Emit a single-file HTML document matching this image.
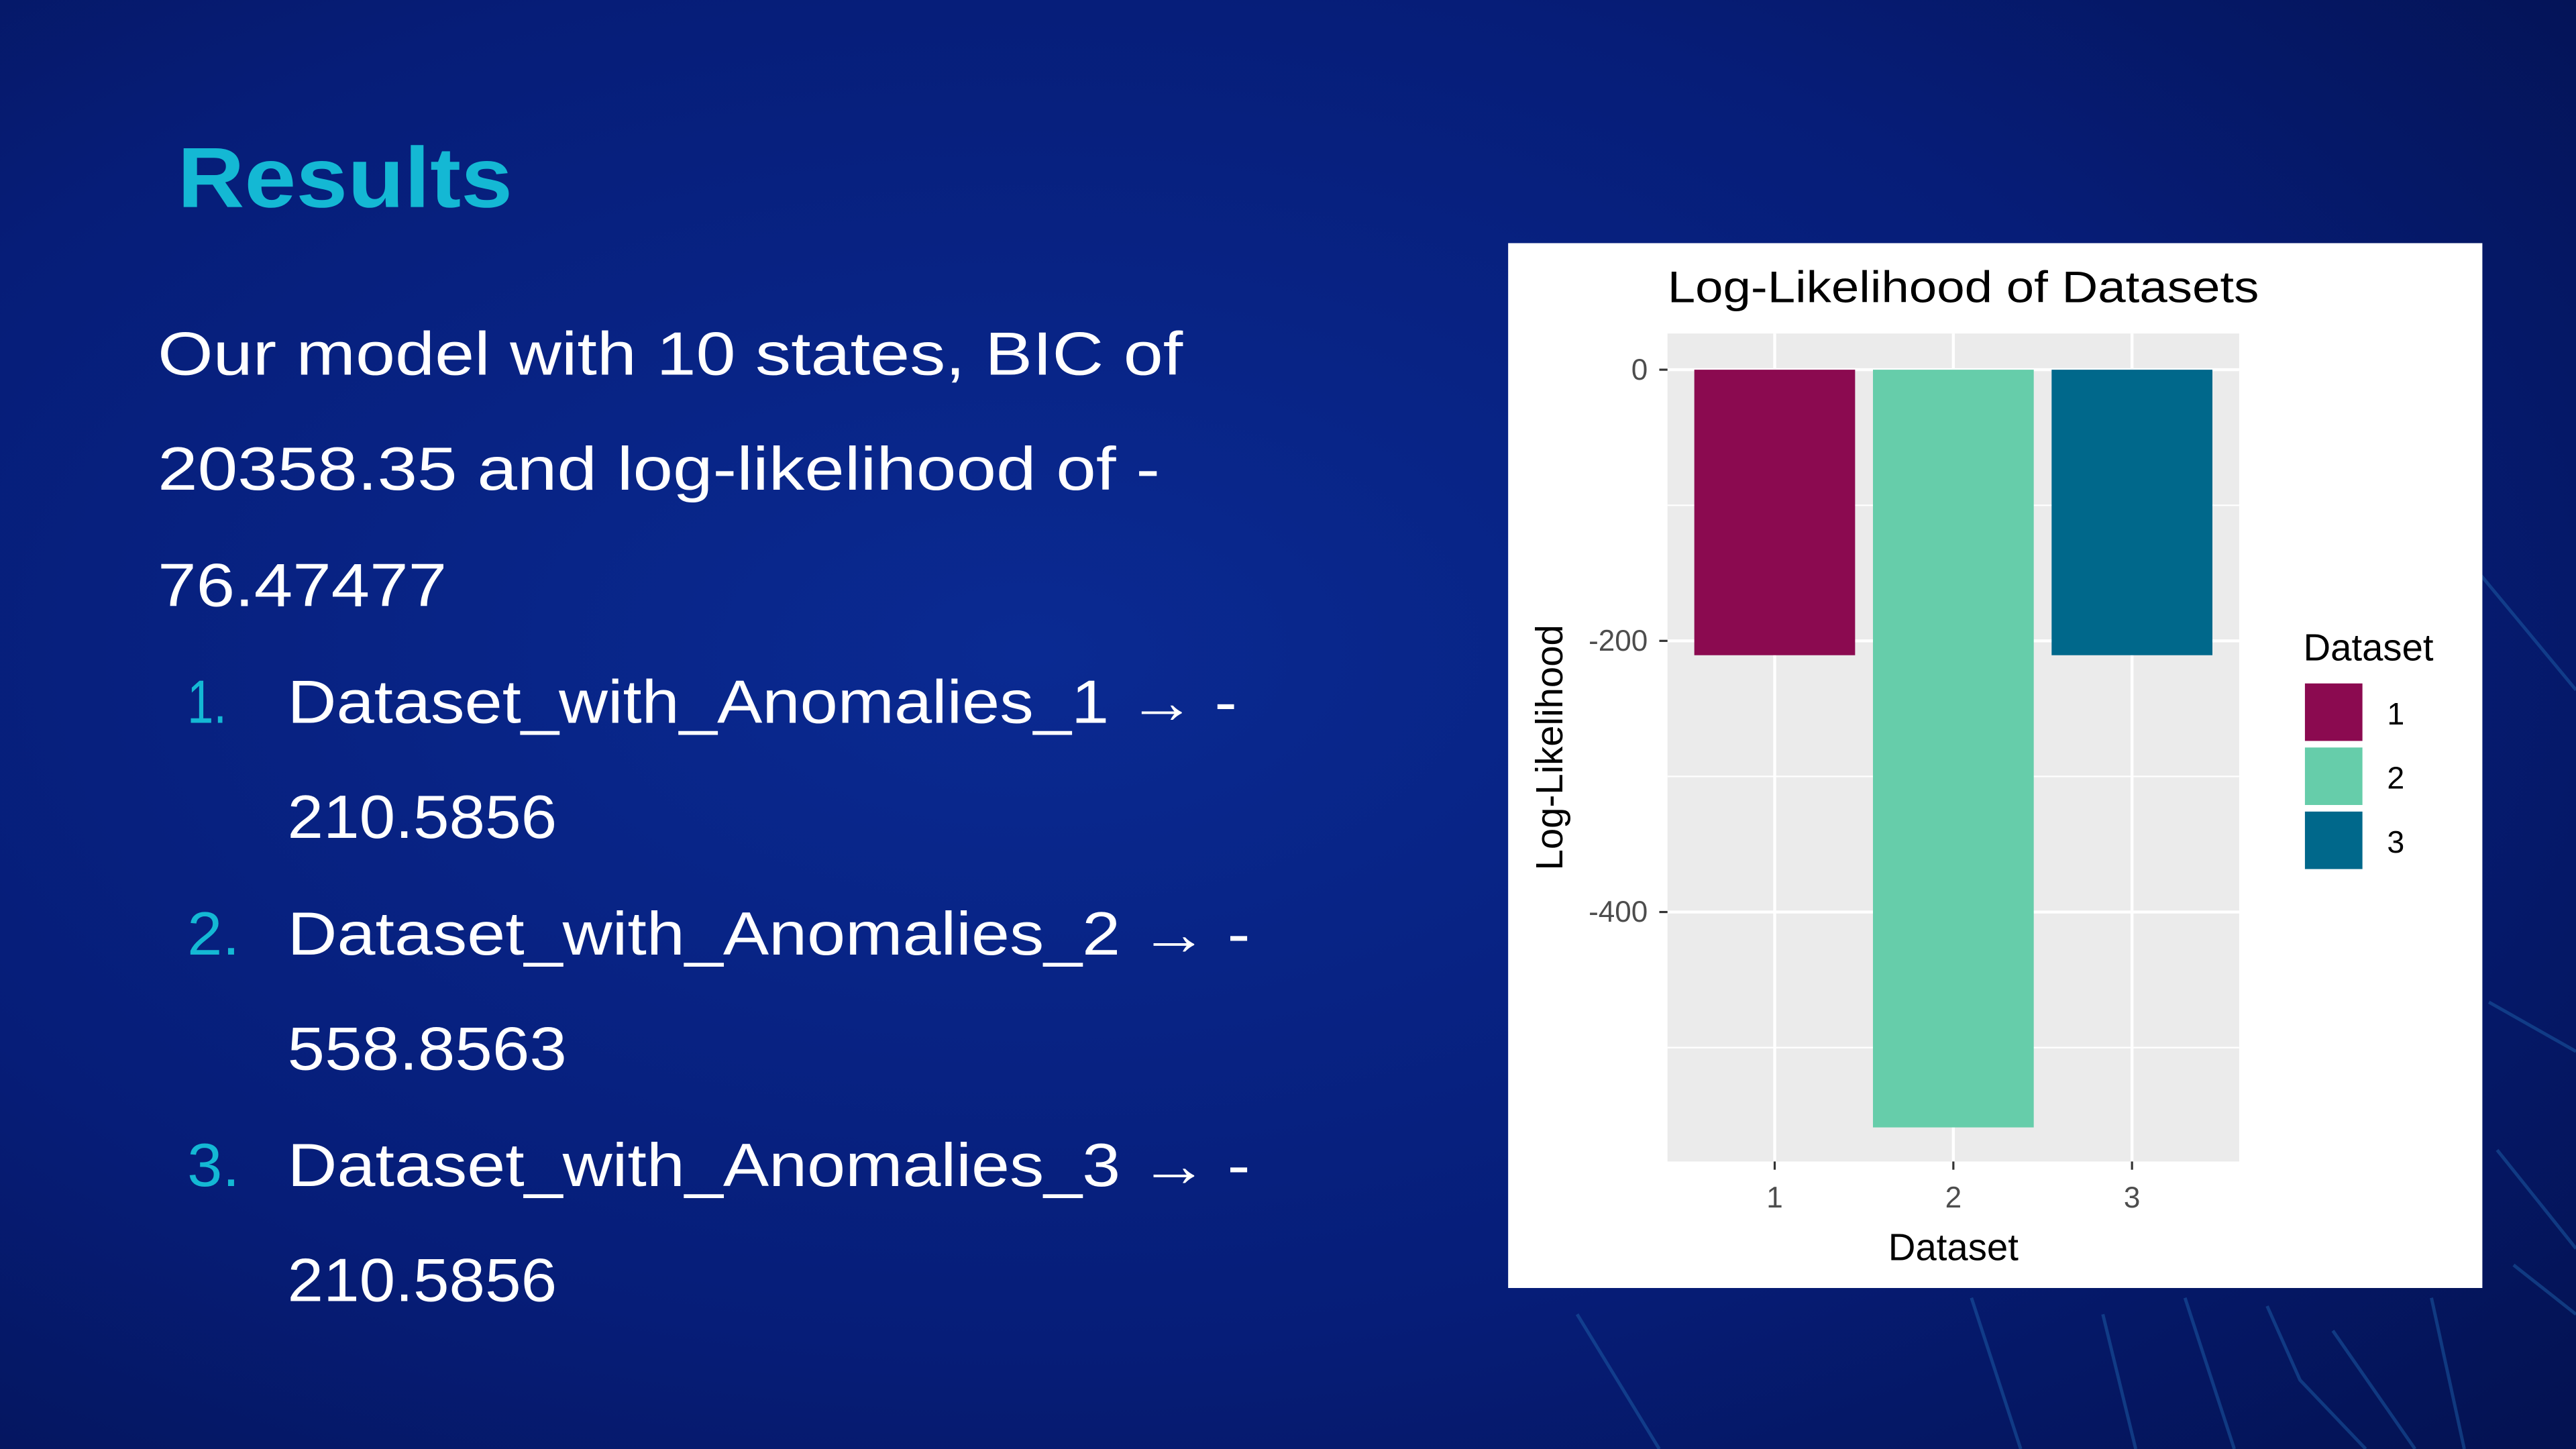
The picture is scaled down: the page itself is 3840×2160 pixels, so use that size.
<!DOCTYPE html>
<html><head><meta charset="utf-8">
<style>
html,body{margin:0;padding:0;width:3840px;height:2160px;overflow:hidden;background:#06196a;}
svg{display:block}
</style></head>
<body>
<svg id="page" width="3840" height="2160" viewBox="0 0 1568 882" xmlns="http://www.w3.org/2000/svg" font-family="Liberation Sans, sans-serif">
<defs>
<radialGradient id="bg" cx="0.4" cy="0.45" r="0.8">
<stop offset="0" stop-color="#0a2a92"/>
<stop offset="0.6" stop-color="#061d78"/>
<stop offset="1" stop-color="#041252"/>
</radialGradient>
</defs>
<rect width="1568" height="882" fill="url(#bg)"/>
<g stroke="#1d5fa8" stroke-width="2" fill="none" opacity="0.5">
<path d="M1510 350 L1568 420"/><path d="M1515 610 L1568 640"/><path d="M1520 700 L1568 760"/>
<path d="M1200 790 L1230 882"/><path d="M1330 790 L1360 882"/><path d="M1420 810 L1470 882"/>
<path d="M1480 790 L1500 882"/><path d="M1530 770 L1568 800"/><path d="M960 800 L1010 882"/>
<path d="M1380 795 L1400 840 L1440 882"/><path d="M1280 800 L1300 882"/>
</g>
<text x="108" y="126" font-size="52" font-weight="bold" fill="#14b8d4" textLength="204" lengthAdjust="spacingAndGlyphs">Results</text>
<g fill="#ffffff" font-size="37">
<text x="96" y="228" textLength="624" lengthAdjust="spacingAndGlyphs">Our model with 10 states, BIC of</text>
<text x="96" y="298" textLength="610" lengthAdjust="spacingAndGlyphs">20358.35 and log-likelihood of -</text>
<text x="96" y="369" textLength="176" lengthAdjust="spacingAndGlyphs">76.47477</text>
<text x="114" y="440" fill="#14b8d4" textLength="24" lengthAdjust="spacingAndGlyphs">1.</text>
<text x="175" y="440" textLength="578" lengthAdjust="spacingAndGlyphs">Dataset_with_Anomalies_1 → -</text>
<text x="175" y="510" textLength="164" lengthAdjust="spacingAndGlyphs">210.5856</text>
<text x="114" y="581" fill="#14b8d4" textLength="32" lengthAdjust="spacingAndGlyphs">2.</text>
<text x="175" y="581" textLength="586" lengthAdjust="spacingAndGlyphs">Dataset_with_Anomalies_2 → -</text>
<text x="175" y="651" textLength="170" lengthAdjust="spacingAndGlyphs">558.8563</text>
<text x="114" y="722" fill="#14b8d4" textLength="32" lengthAdjust="spacingAndGlyphs">3.</text>
<text x="175" y="722" textLength="586" lengthAdjust="spacingAndGlyphs">Dataset_with_Anomalies_3 → -</text>
<text x="175" y="792" textLength="164" lengthAdjust="spacingAndGlyphs">210.5856</text>
</g>
<rect x="918" y="148" width="593" height="636" fill="#ffffff"/>
<text x="1015" y="184" font-size="27" fill="#000" textLength="360" lengthAdjust="spacingAndGlyphs">Log-Likelihood of Datasets</text>
<rect x="1015" y="203" width="348" height="504" fill="#ebebeb"/>
<g id="grid"></g>
<g id="bars"></g>
<g id="axes"></g>
<text x="1189" y="767" font-size="23" text-anchor="middle" fill="#000">Dataset</text>
<text x="951" y="455" font-size="23" text-anchor="middle" fill="#000" transform="rotate(-90 951 455)">Log-Likelihood</text>
<g id="legend">
<text x="1402" y="402" font-size="23" fill="#000">Dataset</text>
</g>
</svg>
<script>
const categories = ['1','2','3'];
const values = [-210.5856, -558.8563, -210.5856];
const colors = ['#8b0a50','#66cdaa','#00688b'];
const yTicks = [0, -200, -400];
const yMinor = [-100, -300, -500];
const yTickLabels = ['0','-200','-400'];

const NS='http://www.w3.org/2000/svg';
const px0=1015, px1=1363, py0=203, py1=707;
const yTop=26.7, yBot=-584;
function y(v){return py0+(yTop-v)/(yTop-yBot)*(py1-py0);}
function x(i){return px0+(i+1-0.4)/3.2*(px1-px0);}
const unit=(px1-px0)/3.2;
function mk(tag,attrs,parent){const e=document.createElementNS(NS,tag);for(const k in attrs)e.setAttribute(k,attrs[k]);parent.appendChild(e);return e;}
const grid=document.getElementById('grid'),bars=document.getElementById('bars'),axes=document.getElementById('axes'),legend=document.getElementById('legend');
yMinor.forEach(v=>{const l=mk('line',{x1:px0,x2:px1,y1:y(v),y2:y(v),stroke:'#fff','stroke-width':0.9},grid);

});
yTicks.forEach((v,i)=>{const l=mk('line',{x1:px0,x2:px1,y1:y(v),y2:y(v),stroke:'#fff','stroke-width':1.8},grid);


const t=mk('line',{x1:px0-5,x2:px0,y1:y(v),y2:y(v),stroke:'#333','stroke-width':1.3},axes);


const tx=mk('text',{x:px0-12,y:y(v)+6,'font-size':18,'text-anchor':'end',fill:'#4d4d4d'},axes);tx.textContent=yTickLabels[i];

});
categories.forEach((c,i)=>{const l=mk('line',{x1:x(i),x2:x(i),y1:py0,y2:py1,stroke:'#fff','stroke-width':1.8},grid);


const b=mk('rect',{x:x(i)-0.45*unit,width:0.9*unit,y:Math.min(y(0),y(values[i])),height:Math.abs(y(values[i])-y(0)),fill:colors[i]},bars);


const t=mk('line',{x1:x(i),x2:x(i),y1:py1,y2:py1+5,stroke:'#333','stroke-width':1.3},axes);


const tx=mk('text',{x:x(i),y:py1+28,'font-size':18,'text-anchor':'middle',fill:'#4d4d4d'},axes);tx.textContent=c;


const k=mk('rect',{x:1403,y:416+i*39,width:35,height:35,fill:colors[i]},legend);


const lt=mk('text',{x:1453,y:441+i*39,'font-size':19,fill:'#000'},legend);lt.textContent=c;

});
</script>
</body></html>
